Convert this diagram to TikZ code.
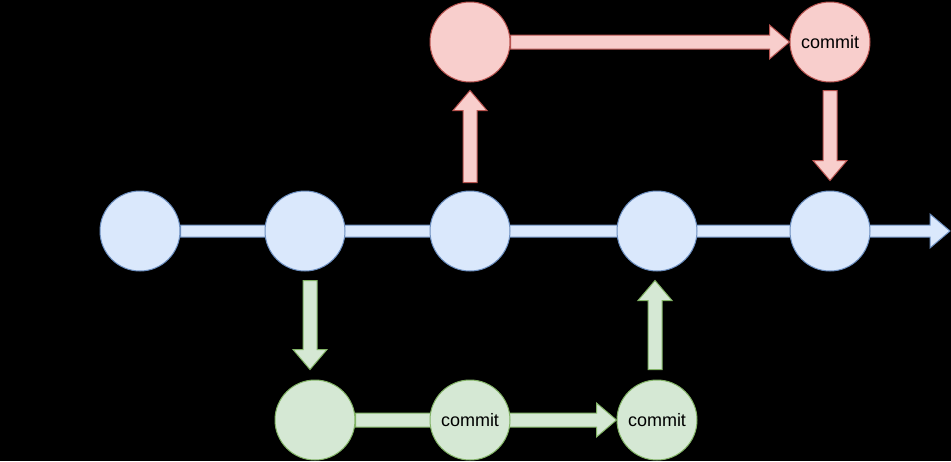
\documentclass[tikz,border=0pt]{standalone}
\usepackage{fontspec}
\setmainfont{Liberation Sans}
\usetikzlibrary{calc}
\definecolor{bfill}{HTML}{DAE8FC}\definecolor{bline}{HTML}{6C8EBF}
\definecolor{rfill}{HTML}{F8CECC}\definecolor{rline}{HTML}{B85450}
\definecolor{gfill}{HTML}{D5E8D4}\definecolor{gline}{HTML}{82B366}
\pgfdeclarelayer{bg}
\pgfsetlayers{bg,main}
\newcommand\flexarr[4]{%
  \path[#1] let \p1=(#2), \p2=(#3), \n1={atan2(\y2-\y1,\x2-\x1)}, \n2={veclen(\x2-\x1,\y2-\y1)} in
   ($(\p1)+(\n1+90:#4)$) -- ($(\p1)+(\n1:{\n2-20pt})+(\n1+90:#4)$) -- ($(\p1)+(\n1:{\n2-20pt})+(\n1+90:17pt)$) -- (\p2) -- ($(\p1)+(\n1:{\n2-20pt})+(\n1-90:17pt)$) -- ($(\p1)+(\n1:{\n2-20pt})+(\n1-90:#4)$) -- ($(\p1)+(\n1-90:#4)$) -- cycle;}
\tikzset{
  dot/.style={circle, minimum size=80pt, inner sep=0pt, line width=1pt, font=\fontsize{18}{20}\selectfont, text=black},
  bdot/.style={dot, draw=bline, fill=bfill},
  rdot/.style={dot, draw=rline, fill=rfill},
  gdot/.style={dot, draw=gline, fill=gfill},
  barr/.style={draw=bline, fill=bfill, line width=1pt, line join=miter},
  rarr/.style={draw=rline, fill=rfill, line width=1pt, line join=miter},
  garr/.style={draw=gline, fill=gfill, line width=1pt, line join=miter}
}
\begin{document}
\begin{tikzpicture}[x=1pt,y=1pt]
\useasboundingbox (0,0) rectangle (951,-461);
\node[bdot] (b1) at (140,-231) {};
\node[bdot] (b2) at (305,-231) {};
\node[bdot] (b3) at (470,-231) {};
\node[bdot] (b4) at (657,-231) {};
\node[bdot] (b5) at (830,-231) {};
\node[rdot] (r1) at (470,-42) {};
\node[rdot] (r2) at (830,-42) {commit};
\node[gdot] (g1) at (315,-420) {};
\node[gdot] (g2) at (470,-420) {commit};
\node[gdot] (g3) at (657,-420) {commit};
\coordinate (tip) at (950,-231);
\begin{pgfonlayer}{bg}
\fill[black] (0,0) rectangle (951,-461);
\flexarr{barr}{b1.east}{tip}{6pt}
\flexarr{garr}{g1.east}{g3.west}{7pt}
\end{pgfonlayer}
\flexarr{rarr}{r1.east}{r2.west}{7pt}
\flexarr{rarr}{$(b3.north)+(0,8)$}{$(r1.south)+(0,-8)$}{7pt}
\flexarr{rarr}{$(r2.south)+(0,-8)$}{$(b5.north)+(0,10)$}{7pt}
\flexarr{garr}{$(b2.south)+(5,-9)$}{$(g1.north)+(-5,10)$}{7pt}
\flexarr{garr}{$(g3.north)+(-2,10)$}{$(b4.south)+(-2,-9)$}{7pt}
\end{tikzpicture}
\end{document}
